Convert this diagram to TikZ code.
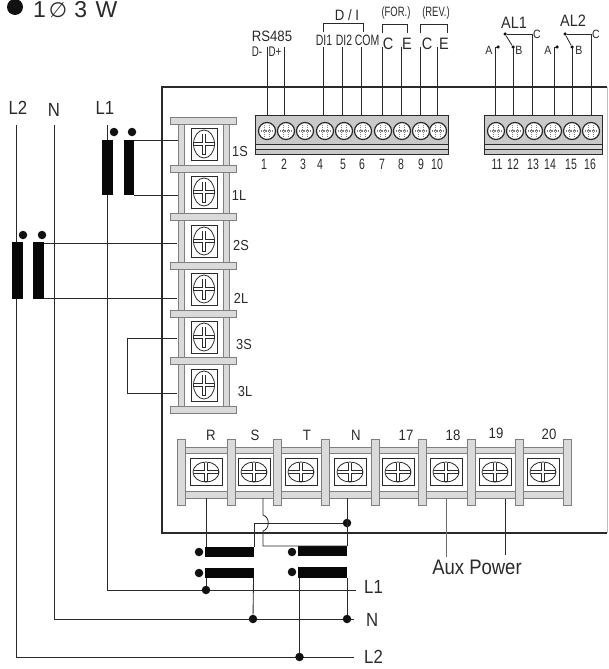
\documentclass[tikz,border=0pt]{standalone}
\usepackage{fontspec}
\setmainfont{Liberation Sans}
\newfontfamily\cond[FakeStretch=0.88]{Liberation Sans}
\newfontfamily\narrow[FakeStretch=0.7]{Liberation Sans}
\newfontfamily\wideglyph{DejaVu Sans}
\definecolor{ink}{HTML}{2A2A2A}
\definecolor{railc}{HTML}{DADADA}
\definecolor{blockc}{HTML}{C9C9C9}
\newcommand{\fsz}[1]{\fontsize{#1}{#1}\selectfont}
\tikzset{
  wire/.style={draw=ink,line width=0.85pt},
  frameline/.style={draw=ink,line width=2pt},
  railbox/.style={draw=ink!60,fill=railc,line width=0.7pt},
  ctbar/.style={fill=ink!20!black,draw=none},
  junction/.style={circle,fill=ink!40!black,draw=none,inner sep=0pt,minimum size=#1},
  junction/.default=9pt,
  lab/.style={inner sep=0pt,text=ink,font=\cond\fsz{#1}},
  lab/.default=13,
  nar/.style={inner sep=0pt,text=ink,font=\narrow\fsz{#1}},
  nar/.default=14,
  vscrew/.pic={
    \draw[draw=ink,fill=white,line width=0.9pt] (-13,-16) rectangle (13,16);
    \draw[draw=ink,fill=white,line width=0.8pt] (0,0) ellipse [x radius=10.5,y radius=14];
    \draw[ink,line width=3.8pt] (-10,0) -- (10,0) (0,-10.5) -- (0,10.5);
    \draw[white,line width=2.2pt] (-9.8,0) -- (9.8,0) (0,-10.2) -- (0,10.2);
  },
  hscrew/.pic={
    \draw[draw=ink,fill=white,line width=0.9pt] (-16,-13.5) rectangle (16,13.5);
    \draw[draw=ink,fill=white,line width=0.8pt] (0,0) ellipse [x radius=13,y radius=10];
    \draw[ink,line width=3.8pt] (-12.5,0) -- (12.5,0) (0,-9.5) -- (0,9.5);
    \draw[white,line width=2.2pt] (-12.3,0) -- (12.3,0) (0,-9.3) -- (0,9.3);
  },
  roundterm/.pic={
    \draw[draw=ink,fill=white,line width=1.2pt] (0,0) circle (8.5);
    \draw[black!50,line width=1.2pt,densely dotted] (-2.5,-6) -- (-2.5,6) (2.5,-6) -- (2.5,6) (-6,0) -- (6,0);
  },
}
\begin{document}
\begin{tikzpicture}[x=1pt,y=-1pt]
\useasboundingbox (0,0) rectangle (608,669);
\fill[white] (0,0) rectangle (608,669);

% heading
\node[junction=16pt] (headdot) at (15,7) {};
\node[inner sep=0pt,text=ink,font=\fsz{23},anchor=base west] (head) at (33,18) {1\hspace{3pt}{\wideglyph\fsz{21}∅}\hspace{7pt}3\hspace{8.5pt}W};

% meter frame
\draw[frameline] (607,87) -- (162,87) -- (162,533) -- (607,533);
\draw[black!25,line width=0.8pt] (607,87) -- (607,533);

% ---- left terminal block
\draw[railbox] (178,120) rectangle (184,410);
\draw[railbox] (223,120) rectangle (229,410);
\foreach \y in {117,165,213,262,310,357,406}
  \draw[railbox] (170,\y) rectangle (236,\y+7);
\foreach \y in {144,192,241,289,337,385}
  \pic at (204,\y) {vscrew};
\foreach \t/\x/\y in {1S/240/152,1L/239/196,2S/241/246,2L/241/298,3S/244/345,3L/245/392}
  \node[lab=14.5] (lbl\t) at (\x,\y) {\t};

% ---- top terminal blocks
\foreach \a/\b in {255/448,484/602}{
  \draw[draw=ink,fill=blockc,line width=0.9pt] (\a,115) rectangle (\b,154);
  \draw[draw=ink,fill=railc,line width=0.6pt] (\a,144) rectangle (\b,149);
}
\foreach \x in {267,286,305,325,344,363,383,402,421,438,496,515,534,553,572,591}
  \pic at (\x,131) {roundterm};
\foreach \t/\x in {1/264,2/284,3/303,4/320,5/343,6/362,7/382,8/401,9/421,10/437,11/497,12/513,13/533,14/550,15/571,16/590}
  \node[nar=15] (num\t) at (\x,164) {\t};

% ---- bottom terminal block
\draw[railbox] (180,447) rectangle (570,453);
\draw[railbox] (180,491) rectangle (570,498);
\foreach \a in {177,227,273,321,371,418,467,515,563}
  \draw[railbox] (\a,439) rectangle (\a+8,505);
\foreach \x in {206,254,301,350,398,446,495,543}
  \pic at (\x,472) {hscrew};
\foreach \t/\x/\y in {R/211/435,S/255/435,T/307/435,N/356/435,17/406/435,18/453/435,19/496/433,20/549/434}
  \node[lab=15] (bt\t) at (\x,\y) {\t};

% ---- wires of the top terminals
\foreach \n/\x/\yt in {a/267/47,b/284/47,c/323/47,d/342/47,e/361/47,f/382/47,g/401/47,h/420/47,i/437/47,j/513/47,k/532/34,l/572/47,m/591/34}{
  \coordinate (up\n) at (\x,\yt);
  \coordinate (dn\n) at (\x,115);
  \draw[wire] (up\n) -- (dn\n);
}
\foreach \n/\x/\dx in {p/495/498,q/554/557}{
  \coordinate (up\n) at (\dx,47);
  \coordinate (dn\n) at (\x,115);
  \draw[wire] (up\n) -| (dn\n);
  \node[junction=3.5pt] (dot\n) at (up\n) {};
}
\coordinate (bra) at (323,32); \coordinate (brb) at (363,32);
\coordinate (brc) at (382,33); \coordinate (brd) at (407,33);
\coordinate (bre) at (420,33); \coordinate (brf) at (447,33);
\draw[wire] (bra) -- ++(0,-9) -| (brb);
\draw[wire] (brc) -- ++(0,-9) -| (brd);
\draw[wire] (bre) -- ++(0,-9) -| (brf);
% relay contacts
\node[junction=3.5pt] (ra) at (505,34) {};
\node[junction=3.5pt] (rb) at (513,47) {};
\node[junction=3.5pt] (rc) at (565,34) {};
\node[junction=3.5pt] (rd) at (572,47) {};
\draw[wire] (ra) -- (upk);
\draw[wire] (ra) -- (rb);
\draw[wire] (rc) -- (upm);
\draw[wire] (rc) -- (rd);

% top labels
\node[lab=15] (t485) at (272,36) {RS485};
\node[nar=14] (tdm) at (257,52) {D-};
\node[nar=14] (tdp) at (275,52) {D+};
\node[lab=15] (tdi) at (347,15) {D / I};
\node[nar=13.5] (tfor) at (396,13) {(FOR.)};
\node[nar=13.5] (trev) at (436,13) {(REV.)};
\node[nar=15] (tdia) at (324,40) {DI1};
\node[nar=15] (tdib) at (344,40) {DI2};
\node[nar=15] (tcom) at (367,40) {COM};
\node[lab=16.5] (tc1) at (388,44) {C};
\node[lab=16.5] (te1) at (407,44) {E};
\node[lab=16.5] (tc2) at (427,44) {C};
\node[lab=16.5] (te2) at (444,44) {E};
\node[lab=16.5] (tal1) at (514,23) {AL1};
\node[lab=16.5] (tal2) at (573,21) {AL2};
\node[lab=12] (ta1) at (489,50) {A};
\node[lab=12] (tb1) at (519,50) {B};
\node[lab=12] (tcc1) at (537,34) {C};
\node[lab=12] (ta2) at (548,50) {A};
\node[lab=12] (tb2) at (579,50) {B};
\node[lab=12] (tcc2) at (596,34) {C};

% ---- mains lines
\coordinate (l2top) at (16,125);
\coordinate (ntop) at (54,125);
\coordinate (l1top) at (107,125);
\coordinate (l1end) at (356,590);
\coordinate (nend) at (354,619);
\coordinate (l2end) at (354,657);
\draw[wire] (l2top) |- (l2end);
\draw[wire] (ntop) |- (nend);
\draw[wire] (l1top) |- (l1end);
\node[lab=19] (tl2) at (18,108) {L2};
\node[lab=19] (tn) at (54,110) {N};
\node[lab=19] (tl1) at (105,108) {L1};
\node[lab=19,anchor=west] (el1) at (364,587) {L1};
\node[lab=19,anchor=west] (en) at (366,620) {N};
\node[lab=19,anchor=west] (el2) at (364,657) {L2};

% ---- current transformers at the left
\fill[ctbar] (102,140) rectangle (113,195);
\fill[ctbar] (124,140) rectangle (134,195);
\fill[ctbar] (12,242) rectangle (23,299);
\fill[ctbar] (33,242) rectangle (44,299);
\node[junction=8.5pt] (da) at (114,132) {};
\node[junction=8.5pt] (db) at (132,132) {};
\node[junction=8.5pt] (dc) at (23,235) {};
\node[junction=8.5pt] (dd) at (42,235) {};
\coordinate (ct1a) at (134,140); \coordinate (ts1a) at (178,140);
\coordinate (ct1b) at (134,195); \coordinate (ts1b) at (178,195);
\coordinate (ct2a) at (44,243); \coordinate (ts2a) at (177,243);
\coordinate (ct2b) at (44,298); \coordinate (ts2b) at (177,298);
\draw[wire] (ct1a) -- (ts1a);
\draw[wire] (ct1b) -- (ts1b);
\draw[wire] (ct2a) -- (ts2a);
\draw[wire] (ct2b) -- (ts2b);
\coordinate (ts3a) at (177,338); \coordinate (ts3b) at (177,393);
\draw[wire] (ts3a) -- (127,338) -- (127,393) -- (ts3b);

% ---- voltage transformers at the bottom
\fill[ctbar] (205,547) rectangle (254,557);
\fill[ctbar] (205,568) rectangle (254,578);
\fill[ctbar] (298,546) rectangle (347,556);
\fill[ctbar] (298,567) rectangle (347,578);
\node[junction=8.5pt] (ve) at (199,552) {};
\node[junction=8.5pt] (vf) at (199,573) {};
\node[junction=8.5pt] (vg) at (292,552) {};
\node[junction=8.5pt] (vh) at (292,572) {};
\coordinate (tmR) at (206,498); \coordinate (vtR) at (206,547);
\coordinate (tmS) at (263,498); \coordinate (tmN) at (347,498);
\coordinate (vtN) at (347,546); \coordinate (vtS) at (254,547);
\draw[wire] (tmR) -- (vtR);
\node[junction=8.5pt] (jn) at (347,523) {};
\draw[wire] (tmN) -- (vtN);
\draw[wire] (jn) -| (vtS);
\draw[wire] (tmS) -- (263,515) .. controls (270,517) and (270,529) .. (263,531) -- (263,546) -- (vtN);
\node[junction=8.5pt] (j1) at (206,590) {};
\node[junction=8.5pt] (j2) at (253,619) {};
\node[junction=8.5pt] (j3) at (347,619) {};
\node[junction=8.5pt] (j4) at (299.5,657) {};
\draw[wire] (206,578) -- (j1);
\draw[wire] (253.5,578) -- (j2);
\draw[wire] (347,578) -- (j3);
\draw[wire] (299.5,578) -- (j4);

% ---- aux power
\coordinate (ax1) at (446,499); \coordinate (ax1e) at (446,557);
\coordinate (ax2) at (505,499); \coordinate (ax2e) at (505,555);
\draw[draw=ink!70,line width=0.9pt] (ax1) -- (ax1e);
\draw[wire] (ax2) -- (ax2e);
\node[lab=21] (aux) at (477,567) {Aux Power};
\end{tikzpicture}
\end{document}
